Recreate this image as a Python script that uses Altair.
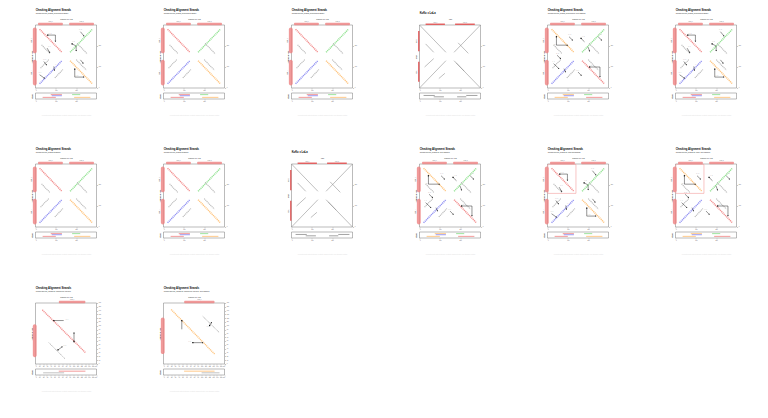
import math
import altair as alt
import pandas as pd

FONT = "Liberation Sans"

# ---------------- synthetic four-strand dataset ----------------
syn_domain = [0, 300]
syn_ticks = [0, 100, 200]
contig_names = ["contig_1", "contig_2"]
contig_start = [12, 165]
contig_end = [135, 288]

RED, GREEN, BLUE, ORANGE = "#f28e8e", "#93e293", "#9090f2", "#ffc47e"
strand_colors = [RED, GREEN, BLUE, ORANGE]
strand_colors_swapped = [ORANGE, GREEN, BLUE, RED]
strand_x1 = [20, 170, 20, 170]
strand_y1 = [280, 170, 20, 130]
strand_x2 = [130, 280, 130, 280]
strand_y2 = [170, 280, 130, 20]

gray_x1 = [30, 205, 25, 95, 200]
gray_y1 = [205, 212, 95, 48, 135]
gray_x2 = [70, 255, 65, 135, 250]
gray_y2 = [165, 162, 135, 88, 85]

# strand-check arrows (set A: regular, set B: axes swapped)
arrA_x1 = [60, 98, 57, 221, 180, 200, 41, 20, 90, 193, 193, 221]
arrA_y1 = [252, 252, 190, 268, 210, 200, 126, 63, 103, 90, 52, 134]
arrA_x2 = [98, 98, 70, 238, 200, 200, 54, 44, 93, 193, 238, 234]
arrA_y2 = [252, 222, 169, 248, 200, 178, 110, 47, 84, 52, 52, 118]
arrA_head = [0, 1, 1, 1, 0, 1, 1, 1, 1, 0, 1, 1]
lblA_x = [62, 60, 212, 178, 36, 14, 95, 196]
lblA_y = [258, 195, 274, 216, 132, 69, 108, 58]
lblA_t = ["(+,+)", "(+,-)", "(+,+)", "(-,+)", "(+,+)", "(+,-)", "(-,-)", "(-,+)"]

arrB_x1 = [44, 44, 106, 165, 199, 249, 47, 30, 81, 207, 258, 150]
arrB_y1 = [244, 204, 244, 236, 196, 244, 156, 116, 92, 100, 100, 76]
arrB_x2 = [44, 98, 123, 182, 207, 266, 64, 56, 89, 258, 258, 166]
arrB_y2 = [204, 204, 228, 220, 176, 228, 140, 92, 76, 100, 53, 60]
arrB_head = [0, 1, 1, 0, 1, 1, 1, 1, 1, 0, 1, 1]
lblB_x = [30, 100, 168, 250, 40, 22, 205, 140]
lblB_y = [204, 250, 242, 250, 162, 122, 106, 82]
lblB_t = ["(+,-)", "(+,+)", "(-,+)", "(+,+)", "(+,+)", "(-,-)", "(-,+)", "(+,-)"]

# bottom strand strip (x extents per row)
strip_x1 = [75, 80, 180, 35, 190]
strip_x2 = [130, 130, 220, 100, 270]
strip_row = [3.2, 2.4, 3.2, 1.2, 1.2]
strip_colors = [RED, BLUE, GREEN, RED, ORANGE]
strip_colors_swapped = [ORANGE, BLUE, GREEN, ORANGE, RED]

# ---------------- KoKo x LaLa ----------------
koko_domain = [0, 300]
koko_ticks = [0, 100, 200]
koko_contig_start = [30, 175]
koko_contig_end = [125, 272]
koko_x1 = [0, 170, 0, 170, 30, 190, 25, 180, 95]
koko_y1 = [300, 130, 0, 170, 210, 215, 100, 120, 45]
koko_x2 = [130, 300, 130, 300, 70, 240, 70, 220, 125]
koko_y2 = [170, 0, 130, 300, 170, 165, 140, 80, 70]
koko_strip_x1 = [20, 70, 185, 230]
koko_strip_x2 = [75, 120, 230, 285]
koko_strip_row = [2.6, 1.6, 1.6, 2.6]

# ---------------- zoomed selection ----------------
zoom_domain = [0, 160]
zoom_ticks = list(range(0, 161, 10))
zA_strand = [18, 142, 131, 30]          # x1, y1, x2, y2 (red)
zA_gray = [35, 56, 78, 13]
zA_top = [61, 131]
zA_left = [18, 104]
zA_arr_x1 = [48, 101, 59]
zA_arr_y1 = [114, 59, 37]
zA_arr_x2 = [74, 101, 70]
zA_arr_y2 = [114, 82, 45]
zA_lbl_x = [78, 72]
zA_lbl_y = [114, 47]
zA_lbl_t = ["(+,-)", "(+,+)"]
zA_strip = [61, 131, 20, 75]

zB_strand = [20, 143, 134, 26]          # orange
zB_gray = [103, 125, 147, 82]
zB_top = [54, 134]
zB_left = [26, 122]
zB_arr_x1 = [48, 77, 121]
zB_arr_y1 = [114, 56, 101]
zB_arr_x2 = [48, 103, 126]
zB_arr_y2 = [91, 56, 109]
zB_lbl_x = [64, 112]
zB_lbl_y = [56, 96]
zB_lbl_t = ["(-,+)", "(+,+)"]
zB_strip = [54, 134, 100, 147]

# ---------------- titles ----------------
panel_titles = [
    "Checking Alignment Strands", "Checking Alignment Strands", "Checking Alignment Strands",
    "KoKo x LaLa", "Checking Alignment Strands", "Checking Alignment Strands",
    "Checking Alignment Strands", "Checking Alignment Strands", "KoKo x LaLa",
    "Checking Alignment Strands", "Checking Alignment Strands", "Checking Alignment Strands",
    "Checking Alignment Strands", "Checking Alignment Strands",
]
panel_subtitles = [
    "Working with four_strands_synthetical.gff dataset",
    "Working with four_strands_synthetical.gff dataset",
    "Working with four_strands_synthetical.gff dataset",
    "",
    "Working with four_strands_synthetical.gff, axes swapped",
    "Working with four_strands_synthetical.gff dataset",
    "Working with four_strands.gff dataset",
    "Working with four_strands.gff dataset",
    "",
    "Working with four_strands.gff, axes swapped",
    "Working with four_strands.gff, zoom and highlight",
    "Working with four_strands.gff, zoom, axes swapped",
    "Working with four_strands.gff, zooming into selection",
    "Working with four_strands.gff, zooming into selection, axes swapped",
]
caption = "Generated with dotplot-strands  |  synthetic alignment data  |  four stranded contigs"

W, H = 61, 63
FS = 1.4
LFS = 1.3


def segs(x1, y1, x2, y2, color=None):
    d = pd.DataFrame({"x": x1, "y": y1, "x2": x2, "y2": y2})
    if color is not None:
        d["c"] = color
    return d


def heads(df, flags):
    d = df[[bool(f) for f in flags]].copy()
    d["ang"] = [
        (90 - math.degrees(math.atan2(r.y2 - r.y, r.x2 - r.x))) % 360 for r in d.itertuples()
    ]
    return d


def ptitle(i, sub=True):
    kw = dict(anchor="start", fontSize=2.6, fontWeight=900, font=FONT, offset=3.5,
              color="#000", dx=4.5)
    if sub and panel_subtitles[i]:
        kw.update(subtitle=panel_subtitles[i], subtitleFontSize=1.5, subtitleFont=FONT,
                  subtitlePadding=1.0, subtitleColor="#222")
    return alt.TitleParams(panel_titles[i], **kw)


def main_chart(dom, ticks, layers_spec, xtitle, ytitle, w=W, h=H):
    xs = alt.Scale(domain=dom, nice=False, zero=False)
    ys = alt.Scale(domain=dom, nice=False, zero=False)
    layers = []
    frame = pd.DataFrame({"x": [dom[0]], "y": [dom[0]]})
    layers.append(
        alt.Chart(frame).mark_point(opacity=0).encode(
            x=alt.X("x:Q", scale=xs, axis=alt.Axis(orient="top", title=xtitle, labels=False,
                                                    ticks=False, domain=False, grid=False,
                                                    titleFontSize=FS, titleFontWeight="normal",
                                                    titlePadding=5.5, titleColor="#111")),
            y=alt.Y("y:Q", scale=ys, axis=alt.Axis(orient="left", title=ytitle, labels=False,
                                                    ticks=False, domain=False, grid=False,
                                                    titleFontSize=FS, titleFontWeight="normal",
                                                    titlePadding=3, titleColor="#111")),
        )
    )
    layers.append(
        alt.Chart(frame).mark_point(opacity=0).encode(
            x=alt.X("x:Q", scale=xs, axis=alt.Axis(orient="bottom", values=ticks, title=None,
                                                    labelFontSize=LFS, tickSize=1.1, tickWidth=0.4,
                                                    labelPadding=0.6, domain=False, grid=False,
                                                    labelColor="#555", tickColor="#777")),
            y=alt.Y("y:Q", scale=ys, axis=alt.Axis(orient="right", values=ticks, title=None,
                                                    labelFontSize=LFS, tickSize=1.1, tickWidth=0.4,
                                                    labelPadding=0.6, domain=False, grid=False,
                                                    labelColor="#555", tickColor="#777")),
        )
    )
    for kind, df, opts in layers_spec:
        base = alt.Chart(df)
        X = alt.X("x:Q", scale=xs, axis=None)
        Y = alt.Y("y:Q", scale=ys, axis=None)
        if kind == "dots":
            m = base.mark_rule(strokeWidth=opts.get("sw", 1.5), strokeDash=[1.1, 0.7]).encode(
                x=X, y=Y, x2="x2:Q", y2="y2:Q", color=alt.Color("c:N", scale=None))
        elif kind == "line":
            m = base.mark_rule(strokeWidth=opts.get("sw", 0.6), color=opts.get("color", "#777")).encode(
                x=X, y=Y, x2="x2:Q", y2="y2:Q")
        elif kind == "arrow":
            m = base.mark_rule(strokeWidth=0.45, color="#111").encode(x=X, y=Y, x2="x2:Q", y2="y2:Q")
        elif kind == "start":
            m = base.mark_square(size=1.6, color="#111", opacity=1).encode(x=X, y=Y)
        elif kind == "head":
            m = base.mark_point(shape="triangle-up", size=2.2, filled=True, color="#111", opacity=1).encode(
                x=alt.X("x2:Q", scale=xs, axis=None), y=alt.Y("y2:Q", scale=ys, axis=None),
                angle=alt.Angle("ang:Q", scale=None))
        elif kind == "label":
            m = base.mark_text(fontSize=1.3, color="#444", align="left", dx=0.5).encode(
                x=X, y=Y, text="t:N")
        elif kind == "ann":
            m = base.mark_rect(color=opts["color"], opacity=opts.get("op", 0.8),
                               cornerRadius=opts.get("r", 0)).encode(x=X, x2="x2:Q", y=Y, y2="y2:Q")
        elif kind == "toplabel":
            m = base.mark_text(fontSize=1.1, color="#666", baseline="bottom").encode(x=X, y=Y, text="t:N")
        elif kind == "leftlabel":
            m = base.mark_text(fontSize=1.1, color="#666", angle=270, baseline="bottom").encode(
                x=X, y=Y, text="t:N")
        elif kind == "box":
            m = base.mark_rect(fill=None, stroke="#f3a0a0", strokeWidth=0.6).encode(
                x=X, x2="x2:Q", y=Y, y2="y2:Q")
        layers.append(m)
    return alt.layer(*layers).resolve_axis(x="independent", y="independent").properties(width=w, height=h)


def strip_chart(dom, ticks, df, w=W, label="strand"):
    xs = alt.Scale(domain=dom, nice=False, zero=False)
    ys = alt.Scale(domain=[0, 4.4], nice=False, zero=False)
    rules = alt.Chart(df).mark_rule(strokeWidth=0.9).encode(
        x=alt.X("x:Q", scale=xs, axis=alt.Axis(values=ticks, title=caption, labelFontSize=LFS,
                                                tickSize=1.1, tickWidth=0.4, labelPadding=0.6,
                                                grid=False, domain=False, labelColor="#555",
                                                titleFontSize=1.4, titleColor="#e2e2e2",
                                                titleFontWeight="normal", titlePadding=13)),
        x2="x2:Q",
        y=alt.Y("y:Q", scale=ys, axis=alt.Axis(title=label, labels=False, ticks=False, domain=False,
                                                grid=False, titleFontSize=1.5, titleFontWeight="bold",
                                                titleColor="#333", titlePadding=2.5)),
        color=alt.Color("c:N", scale=None),
    )
    return rules.properties(width=w, height=6)


def syn_panel(i, colors, grays=True, arrows=None, box=False, header="Sequence on X-axis",
              ylab="Sequence on Y-axis"):
    spec = [("dots", segs(strand_x1, strand_y1, strand_x2, strand_y2, colors), {})]
    if grays:
        spec.append(("dots", segs(gray_x1, gray_y1, gray_x2, gray_y2, ["#b5b5b5"] * len(gray_x1)), {"sw": 1.1}))
    if arrows is not None:
        ax1, ay1, ax2, ay2, hd, lx, ly, lt = arrows
        a = segs(ax1, ay1, ax2, ay2)
        spec.append(("arrow", a, {}))
        spec.append(("start", a[[not bool(f) for f in hd]], {}))
        spec.append(("head", heads(a, hd), {}))
        spec.append(("label", pd.DataFrame({"x": lx, "y": ly, "t": lt}), {}))
    top = pd.DataFrame({"x": contig_start, "x2": contig_end, "y": [299] * 2, "y2": [311] * 2})
    left = pd.DataFrame({"x": [-13] * 2, "x2": [6] * 2, "y": contig_start, "y2": contig_end})
    spec.append(("ann", top, {"color": "#ee8080", "r": 2}))
    spec.append(("ann", left, {"color": "#ee8080", "r": 2}))
    spec.append(("toplabel", pd.DataFrame({"x": [(a + b) / 2 for a, b in zip(contig_start, contig_end)],
                                           "y": [313] * 2, "t": contig_names}), {}))
    spec.append(("leftlabel", pd.DataFrame({"y": [(a + b) / 2 for a, b in zip(contig_start, contig_end)],
                                            "x": [-15] * 2, "t": contig_names}), {}))
    if box:
        spec.append(("box", pd.DataFrame({"x": [2], "x2": [140], "y": [160], "y2": [298]}), {}))
    main = main_chart(syn_domain, syn_ticks, spec, header, ylab)
    sc = strip_colors if colors[0] == RED else strip_colors_swapped
    strip = strip_chart(syn_domain, syn_ticks, segs(strip_x1, strip_row, strip_x2, strip_row, sc))
    return alt.vconcat(main, strip, spacing=0).properties(title=ptitle(i))


def koko_panel(i):
    spec = [("line", segs(koko_x1, koko_y1, koko_x2, koko_y2), {"sw": 0.55, "color": "#8a8a8a"})]
    top = pd.DataFrame({"x": koko_contig_start, "x2": koko_contig_end, "y": [300] * 2, "y2": [307] * 2})
    left = pd.DataFrame({"x": [-7] * 2, "x2": [0] * 2, "y": koko_contig_start, "y2": koko_contig_end})
    spec.append(("ann", top, {"color": "#e25a5a", "op": 0.95}))
    spec.append(("ann", left, {"color": "#e25a5a", "op": 0.95}))
    spec.append(("toplabel", pd.DataFrame({"x": [(a + b) / 2 for a, b in zip(koko_contig_start, koko_contig_end)],
                                           "y": [310] * 2, "t": ["LaLa_1", "LaLa_2"]}), {}))
    spec.append(("leftlabel", pd.DataFrame({"y": [(a + b) / 2 for a, b in zip(koko_contig_start, koko_contig_end)],
                                            "x": [-10] * 2, "t": ["KoKo_1", "KoKo_2"]}), {}))
    main = main_chart(koko_domain, koko_ticks, spec, "LaLa", "KoKo")
    sdf = segs(koko_strip_x1, koko_strip_row, koko_strip_x2, koko_strip_row, ["#999"] * 4)
    strip = strip_chart(koko_domain, koko_ticks, sdf, label="")
    return alt.vconcat(main, strip, spacing=0).properties(title=ptitle(i, sub=False))


def zoom_panel(i, strand, color, gray, topr, leftr, ax1, ay1, ax2, ay2, lx, ly, lt, strip_r):
    spec = [("dots", segs([strand[0]], [strand[1]], [strand[2]], [strand[3]], [color]), {"sw": 1.4}),
            ("dots", segs([gray[0]], [gray[1]], [gray[2]], [gray[3]], ["#b0b0b0"]), {"sw": 1.0})]
    a = segs(ax1, ay1, ax2, ay2)
    spec.append(("arrow", a, {}))
    spec.append(("start", a, {}))
    spec.append(("head", heads(a, [0, 1, 1]), {}))
    spec.append(("label", pd.DataFrame({"x": lx, "y": ly, "t": lt}), {}))
    spec.append(("ann", pd.DataFrame({"x": [topr[0]], "x2": [topr[1]], "y": [159.5], "y2": [166]}),
                 {"color": "#ee8080", "r": 2}))
    spec.append(("ann", pd.DataFrame({"x": [-7], "x2": [3], "y": [leftr[0]], "y2": [leftr[1]]}),
                 {"color": "#ee8080", "r": 2}))
    spec.append(("toplabel", pd.DataFrame({"x": [(topr[0] + topr[1]) / 2], "y": [168], "t": ["contig_1"]}), {}))
    main = main_chart(zoom_domain, zoom_ticks, spec, "Sequence on X-axis", "Sequence on Y-axis", h=61)
    sdf = segs([strip_r[0], strip_r[2]], [2.8, 1.6], [strip_r[1], strip_r[3]], [2.8, 1.6], [color, "#bbb"])
    strip = strip_chart(zoom_domain, zoom_ticks, sdf)
    return alt.vconcat(main, strip, spacing=0).properties(title=ptitle(i))


arrA = (arrA_x1, arrA_y1, arrA_x2, arrA_y2, arrA_head, lblA_x, lblA_y, lblA_t)
arrB = (arrB_x1, arrB_y1, arrB_x2, arrB_y2, arrB_head, lblB_x, lblB_y, lblB_t)

panels = [
    syn_panel(0, strand_colors, arrows=arrA),
    syn_panel(1, strand_colors),
    syn_panel(2, strand_colors),
    koko_panel(3),
    syn_panel(4, strand_colors_swapped, arrows=arrB),
    syn_panel(5, strand_colors, arrows=arrA),
    syn_panel(6, strand_colors),
    syn_panel(7, strand_colors),
    koko_panel(8),
    syn_panel(9, strand_colors_swapped, arrows=arrB),
    syn_panel(10, strand_colors, arrows=arrA, box=True),
    syn_panel(11, strand_colors_swapped, arrows=arrB, box=True),
    zoom_panel(12, zA_strand, RED, zA_gray, zA_top, zA_left, zA_arr_x1, zA_arr_y1, zA_arr_x2,
               zA_arr_y2, zA_lbl_x, zA_lbl_y, zA_lbl_t, zA_strip),
    zoom_panel(13, zB_strand, ORANGE, zB_gray, zB_top, zB_left, zB_arr_x1, zB_arr_y1, zB_arr_x2,
               zB_arr_y2, zB_lbl_x, zB_lbl_y, zB_lbl_t, zB_strip),
]

chart = alt.concat(*panels, columns=6, spacing={"row": 31, "column": 57}).properties(
    padding={"left": 22.5, "top": 1, "right": 0, "bottom": 0}
).configure(font=FONT).configure_view(stroke="#777", strokeWidth=0.5)

chart.save("out.html", embed_options={"renderer": "svg", "actions": False})
